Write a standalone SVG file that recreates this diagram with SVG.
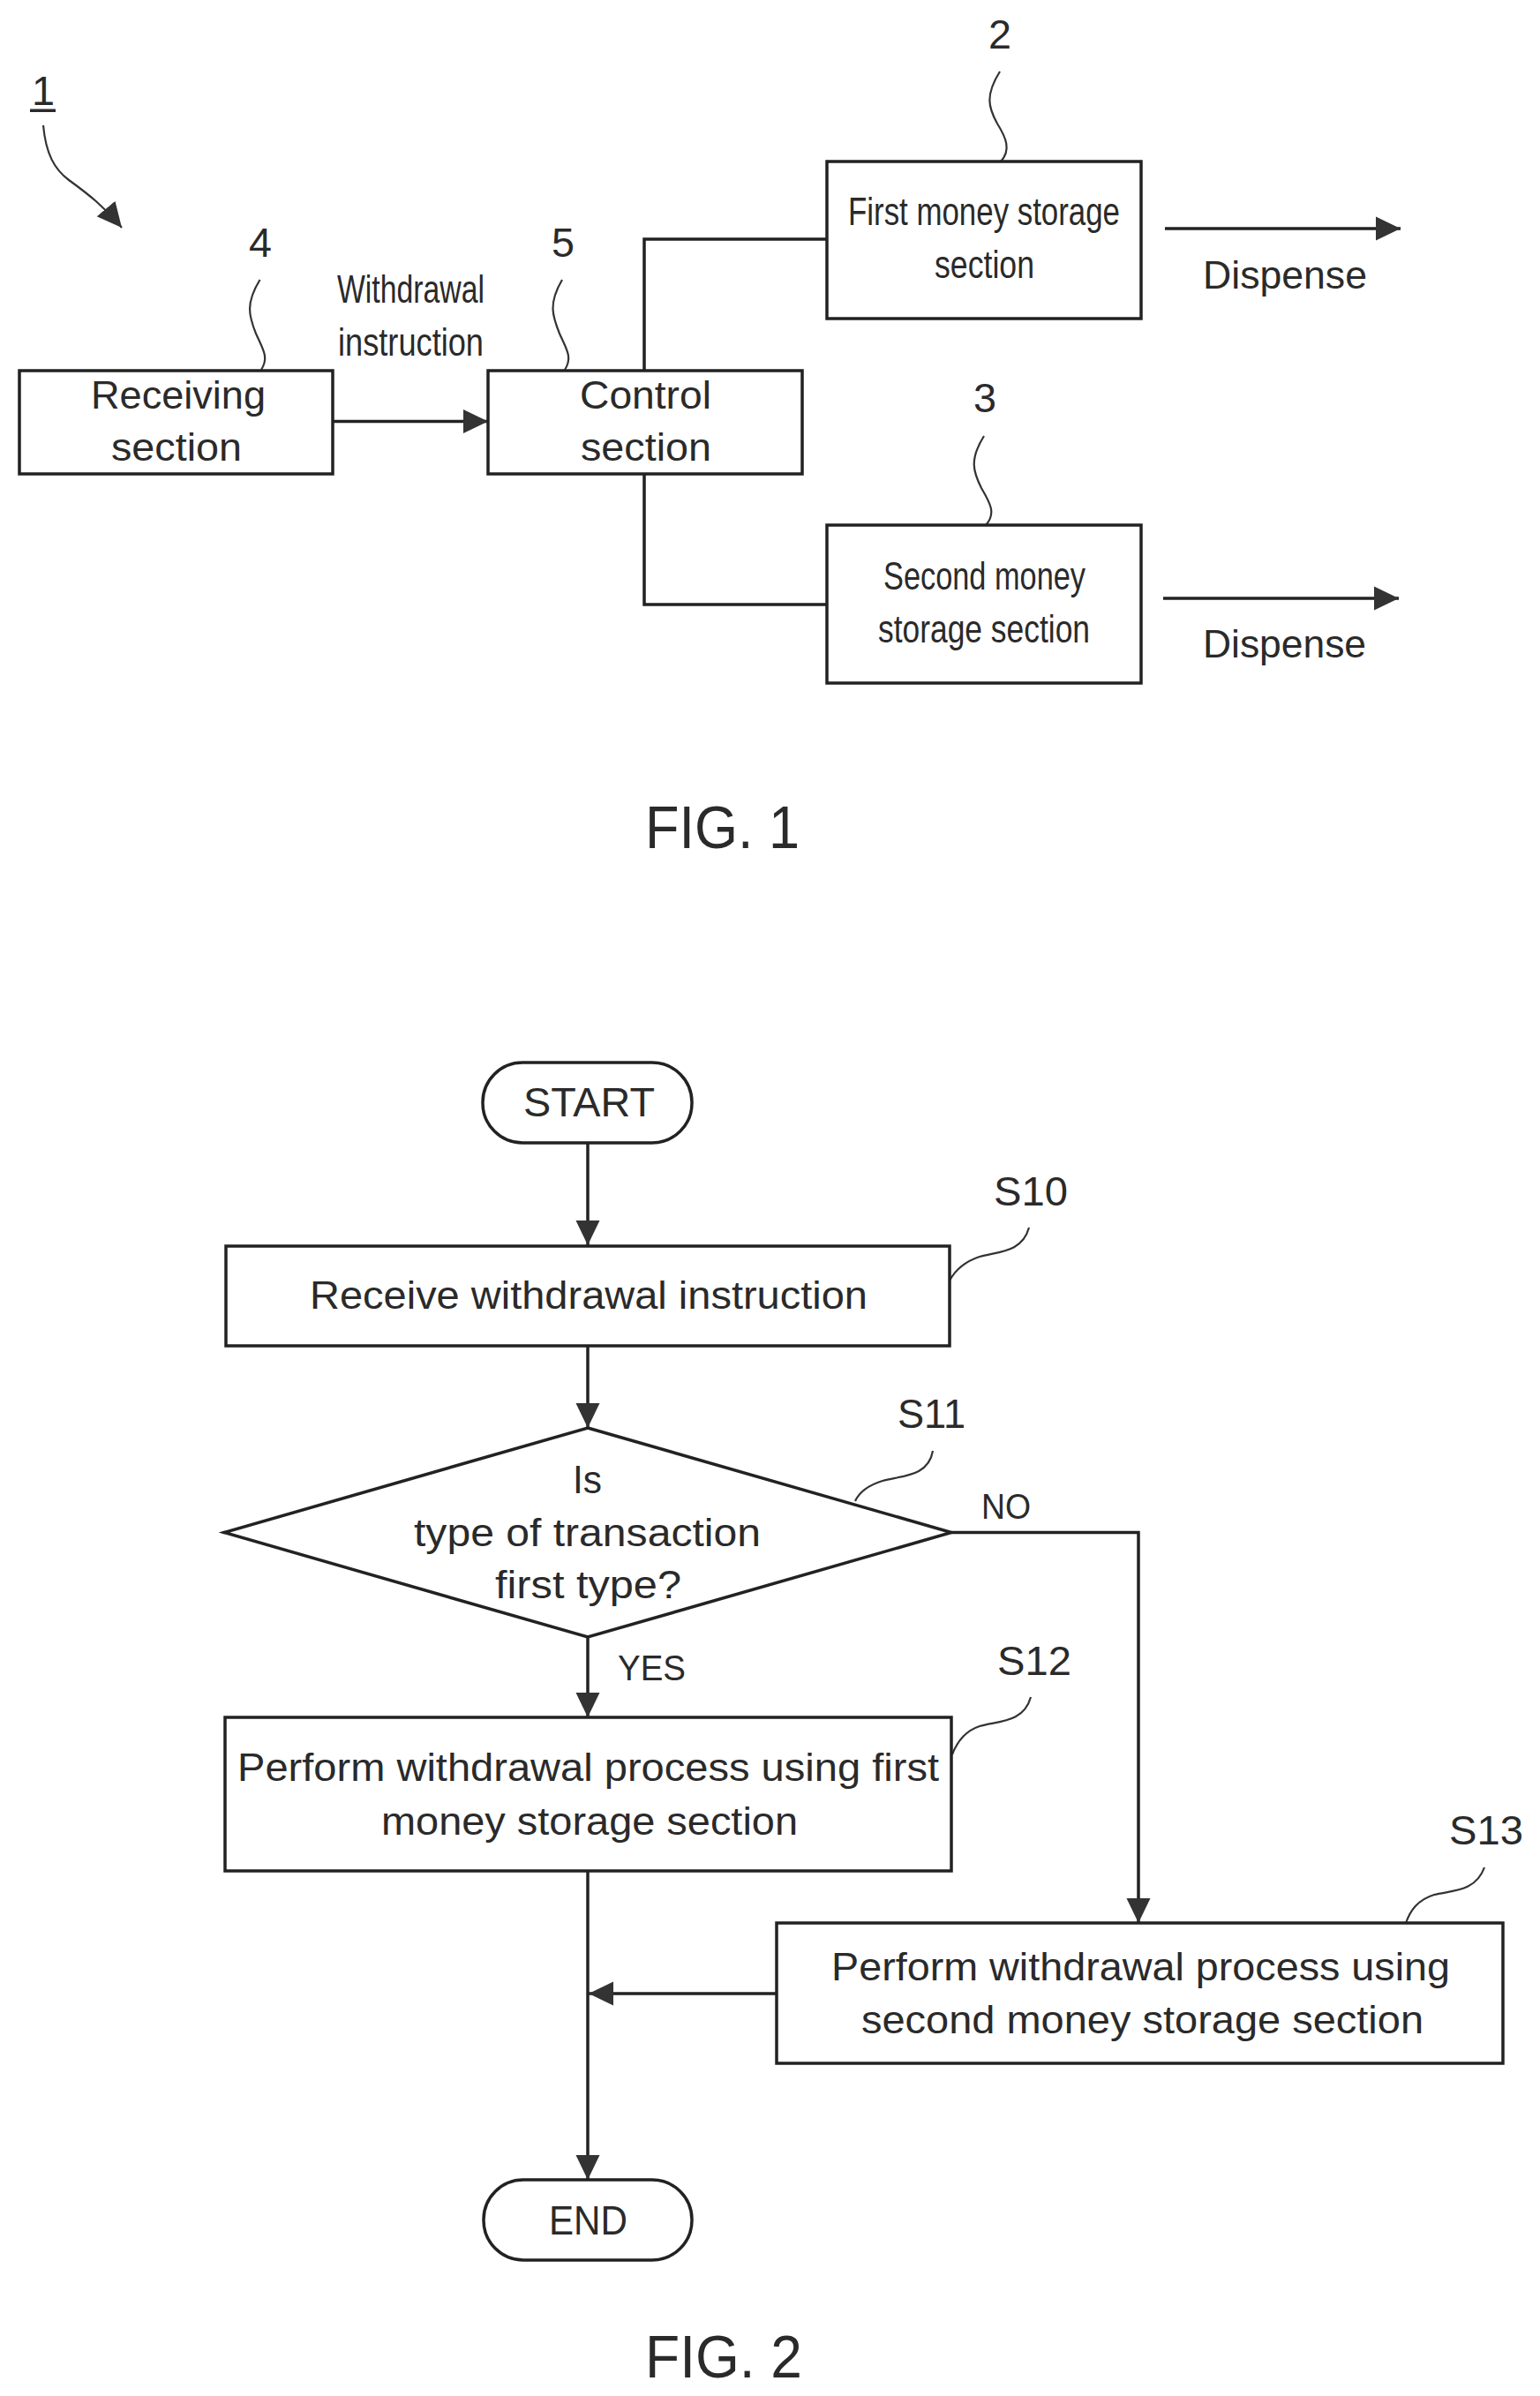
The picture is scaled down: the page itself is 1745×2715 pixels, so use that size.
<svg xmlns="http://www.w3.org/2000/svg" width="1745" height="2715" viewBox="0 0 1745 2715">
<style>
.box{fill:#fff;stroke:#222;stroke-width:3.5}
.wire{fill:none;stroke:#222;stroke-width:3.5}
.lead{fill:none;stroke:#333;stroke-width:2.2}
text{font-family:"Liberation Sans",Arial,sans-serif;fill:#2a2a2a;font-size:45px;text-anchor:start}
.ref{font-size:47px}
.small{font-size:40px}
.fig{font-size:69px}
</style>
<defs>
<marker id="arr" markerUnits="userSpaceOnUse" viewBox="0 0 28 28" refX="28" refY="14" markerWidth="28" markerHeight="28" orient="auto">
<path d="M0 0.500 L28 14 L0 27.500 Z" fill="#333"/>
</marker>
</defs>
<rect width="1745" height="2715" fill="#fff"/>

<g id="connectors">
<path class="wire" d="M377 477.500H553" marker-end="url(#arr)"/>
<path class="wire" d="M730 419V271H937"/>
<path class="wire" d="M730 537V685H937"/>
<path class="wire" d="M1320 259H1587" marker-end="url(#arr)"/>
<path class="wire" d="M1318 678H1585" marker-end="url(#arr)"/>
<path class="wire" d="M666 1295V1411" marker-end="url(#arr)"/>
<path class="wire" d="M666 1525V1618" marker-end="url(#arr)"/>
<path class="wire" d="M666 1855V1946" marker-end="url(#arr)"/>
<path class="wire" d="M1078 1736.500H1290V2179" marker-end="url(#arr)"/>
<path class="wire" d="M666 2120V2470" marker-end="url(#arr)"/>
<path class="wire" d="M880 2259H667" marker-end="url(#arr)"/>
<path class="lead" d="M49 142C52 175 62 192 78 204C100 220 118 234 138 258" marker-end="url(#arr)"/>
<path class="lead" d="M294.500 317C278 344 282 358 290 378C298 396 305 405 296 419"/>
<path class="lead" d="M637 317C621 344 626 358 634 378C642 396 649 405 640 419"/>
<path class="lead" d="M1133 81C1116 108 1120 122 1130 140C1140 156 1146 170 1134 183"/>
<path class="lead" d="M1115 494C1098 521 1103 535 1112 553C1122 570 1129 582 1117 595"/>
<path class="lead" d="M1166 1391C1158 1420 1130 1418 1110 1424C1092 1430 1082 1440 1076 1451"/>
<path class="lead" d="M1057 1644C1052 1674 1020 1672 1000 1678C984 1683 974 1690 969 1701"/>
<path class="lead" d="M1168 1923C1160 1952 1132 1950 1110 1956C1092 1962 1084 1975 1079 1988"/>
<path class="lead" d="M1682 2116C1672 2144 1645 2142 1625 2147C1606 2153 1598 2165 1593 2179"/>
</g>

<g id="ref-1">
<text class="ref" x="36" y="119" textLength="26" lengthAdjust="spacingAndGlyphs">1</text>
<rect x="34" y="123.500" width="29" height="3.500" fill="#2a2a2a"/>
</g>
<text class="ref" x="282" y="291" textLength="26" lengthAdjust="spacingAndGlyphs">4</text>
<text class="ref" x="625" y="291" textLength="26" lengthAdjust="spacingAndGlyphs">5</text>
<text class="ref" x="1120" y="55" textLength="26" lengthAdjust="spacingAndGlyphs">2</text>
<text class="ref" x="1103" y="467" textLength="26" lengthAdjust="spacingAndGlyphs">3</text>

<g id="receiving-section">
<rect class="box" x="22" y="420" width="355" height="117"/>
<text x="103" y="463" textLength="198" lengthAdjust="spacingAndGlyphs">Receiving</text>
<text x="126" y="522" textLength="148" lengthAdjust="spacingAndGlyphs">section</text>
</g>
<g id="withdrawal-label">
<text x="382" y="343" textLength="167" lengthAdjust="spacingAndGlyphs">Withdrawal</text>
<text x="383" y="403" textLength="165" lengthAdjust="spacingAndGlyphs">instruction</text>
</g>
<g id="control-section">
<rect class="box" x="553" y="420" width="356" height="117"/>
<text x="657" y="463" textLength="149" lengthAdjust="spacingAndGlyphs">Control</text>
<text x="658" y="522" textLength="148" lengthAdjust="spacingAndGlyphs">section</text>
</g>
<g id="first-money-storage">
<rect class="box" x="937" y="183" width="356" height="178"/>
<text x="961" y="255" textLength="308" lengthAdjust="spacingAndGlyphs">First money storage</text>
<text x="1059" y="315" textLength="113" lengthAdjust="spacingAndGlyphs">section</text>
</g>
<g id="second-money-storage">
<rect class="box" x="937" y="595" width="356" height="179"/>
<text x="1001" y="668" textLength="229" lengthAdjust="spacingAndGlyphs">Second money</text>
<text x="995" y="728" textLength="240" lengthAdjust="spacingAndGlyphs">storage section</text>
</g>
<text x="1363" y="327" textLength="186" lengthAdjust="spacingAndGlyphs">Dispense</text>
<text x="1363" y="745" textLength="185" lengthAdjust="spacingAndGlyphs">Dispense</text>
<text class="fig" x="731" y="961" textLength="175" lengthAdjust="spacingAndGlyphs">FIG. 1</text>

<g id="start">
<rect class="box" x="547" y="1204" width="237" height="91" rx="45" ry="45"/>
<text class="ref" x="593" y="1265" textLength="149" lengthAdjust="spacingAndGlyphs">START</text>
</g>
<g id="s10">
<rect class="box" x="256" y="1412" width="820" height="113"/>
<text x="351" y="1483" textLength="632" lengthAdjust="spacingAndGlyphs">Receive withdrawal instruction</text>
<text class="ref" x="1126" y="1366" textLength="84" lengthAdjust="spacingAndGlyphs">S10</text>
</g>
<g id="s11">
<polygon class="box" points="666,1618 1078,1736.500 666,1855 254,1736.500"/>
<text x="649" y="1692" textLength="33" lengthAdjust="spacingAndGlyphs">Is</text>
<text x="469" y="1752" textLength="393" lengthAdjust="spacingAndGlyphs">type of transaction</text>
<text x="561" y="1811" textLength="211" lengthAdjust="spacingAndGlyphs">first type?</text>
<text class="ref" x="1017" y="1618" textLength="77" lengthAdjust="spacingAndGlyphs">S11</text>
</g>
<text class="small" x="1112" y="1721" textLength="56" lengthAdjust="spacingAndGlyphs">NO</text>
<text class="small" x="700" y="1904" textLength="77" lengthAdjust="spacingAndGlyphs">YES</text>
<g id="s12">
<rect class="box" x="255" y="1946" width="823" height="174"/>
<text x="269" y="2018" textLength="795" lengthAdjust="spacingAndGlyphs">Perform withdrawal process using first</text>
<text x="432" y="2079" textLength="472" lengthAdjust="spacingAndGlyphs">money storage section</text>
<text class="ref" x="1130" y="1898" textLength="84" lengthAdjust="spacingAndGlyphs">S12</text>
</g>
<g id="s13">
<rect class="box" x="880" y="2179" width="823" height="159"/>
<text x="942" y="2244" textLength="701" lengthAdjust="spacingAndGlyphs">Perform withdrawal process using</text>
<text x="976" y="2304" textLength="637" lengthAdjust="spacingAndGlyphs">second money storage section</text>
<text class="ref" x="1642" y="2090" textLength="84" lengthAdjust="spacingAndGlyphs">S13</text>
</g>
<g id="end">
<rect class="box" x="548" y="2470" width="236" height="91" rx="45" ry="45"/>
<text class="ref" x="622" y="2532" textLength="89" lengthAdjust="spacingAndGlyphs">END</text>
</g>
<text class="fig" x="731" y="2694" textLength="178" lengthAdjust="spacingAndGlyphs">FIG. 2</text>
</svg>
